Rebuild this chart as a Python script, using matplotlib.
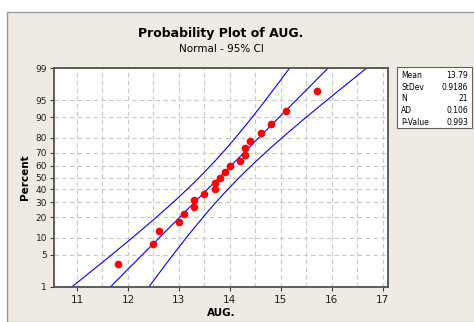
import matplotlib
matplotlib.use("Agg")
import matplotlib.pyplot as plt
from matplotlib.patches import Rectangle
from statistics import NormalDist
import numpy as np

aug = [11.8, 12.5, 12.6, 13.0, 13.1, 13.3, 13.3, 13.5, 13.7, 13.7, 13.8,
       13.9, 14.0, 14.2, 14.3, 14.3, 14.4, 14.6, 14.8, 15.1, 15.7]
percent_ticks = [1, 5, 10, 20, 30, 40, 50, 60, 70, 80, 90, 95, 99]
x_ticks = [11, 12, 13, 14, 15, 16, 17]
stat_names = ["Mean", "StDev", "N", "AD", "P-Value"]
ad_value = "0.106"
p_value = "0.993"

nd = NormalDist()
_ppf = np.vectorize(lambda p: nd.inv_cdf(min(max(p / 100.0, 1e-9), 1 - 1e-9)), otypes=[float])
_cdf = np.vectorize(lambda z: nd.cdf(z) * 100.0, otypes=[float])


def forward(p):
    return _ppf(np.asarray(p, dtype=float))


def inverse(z):
    return _cdf(np.asarray(z, dtype=float))


data = np.sort(np.array(aug))
n = len(data)
mean = data.mean()
sd = data.std(ddof=1)
ranks = (np.arange(1, n + 1) - 0.3) / (n + 0.4) * 100

# fitted line and 95% CI on percentiles
pp = np.linspace(0.2, 99.8, 400)
z = np.array([nd.inv_cdf(p / 100) for p in pp])
xc = mean + z * sd
half = 1.96 * sd * np.sqrt((1 + z ** 2 / 2) / n)

bg = "#EFEBE2"
fig = plt.figure(figsize=(4.74, 3.22), dpi=100, facecolor="white")
fig.patches.append(Rectangle((7 / 474, 0), 1, 1 - 12 / 322, transform=fig.transFigure,
                             facecolor=bg, edgecolor="#9a9a9a", linewidth=1.0, zorder=-10))

ax = fig.add_axes([54 / 474, 1 - 287 / 322, 334 / 474, 219 / 322])
ax.set_facecolor("white")
ax.set_yscale("function", functions=(forward, inverse))
ax.set_ylim(1, 99)
ax.set_xlim(10.55, 17.1)

ax.plot(xc, pp, color="blue", lw=0.8)
ax.plot(xc - half, pp, color="blue", lw=0.8)
ax.plot(xc + half, pp, color="blue", lw=0.8)
ax.plot(data, ranks, "o", color="red", markersize=4.5, zorder=5)

ax.set_yticks(percent_ticks)
ax.set_yticklabels([str(t) for t in percent_ticks])
ax.yaxis.set_minor_locator(matplotlib.ticker.NullLocator())
ax.set_xticks(x_ticks)
ax.set_xticks(np.arange(11.5, 17, 1.0), minor=True)
ax.grid(True, which="both", axis="x", color="#c8c8c8", ls=(0, (4, 3)), lw=0.8)
ax.grid(True, which="major", axis="y", color="#c8c8c8", ls=(0, (4, 3)), lw=0.8)
ax.tick_params(axis="x", which="minor", length=0)
ax.tick_params(axis="both", which="major", labelsize=6.5, length=3, width=0.8,
               color="#404040", labelcolor="#202020", pad=2)
ax.tick_params(axis="x", labelsize=7.5, pad=3)
for s in ax.spines.values():
    s.set_color("#505050")
    s.set_linewidth(1.3)

ax.set_xlabel("AUG.", fontsize=7.5, fontweight="bold", labelpad=2)
ax.set_ylabel("Percent", fontsize=7.5, fontweight="bold", labelpad=4)

fig.text(221 / 474, 1 - 34 / 322, "Probability Plot of AUG.", ha="center", va="center",
         fontsize=9, fontweight="bold")
fig.text(221 / 474, 1 - 49 / 322, "Normal - 95% CI", ha="center", va="center", fontsize=7.5)

# stats box
fig.patches.append(Rectangle((397 / 474, 1 - 128 / 322), 75 / 474, 61 / 322,
                             transform=fig.transFigure, facecolor="white",
                             edgecolor="#606060", linewidth=0.8, zorder=1))
stat_values = ["%.2f" % mean, "%.4f" % sd, str(n), ad_value, p_value]
for i, (name, val) in enumerate(zip(stat_names, stat_values)):
    yy = 1 - (75.5 + i * 11.7) / 322
    fig.text(401 / 474, yy, name, ha="left", va="center", fontsize=5.5, zorder=2)
    fig.text(468 / 474, yy, val, ha="right", va="center", fontsize=5.5, zorder=2)

fig.savefig("out.png", dpi=100, facecolor=fig.get_facecolor())
